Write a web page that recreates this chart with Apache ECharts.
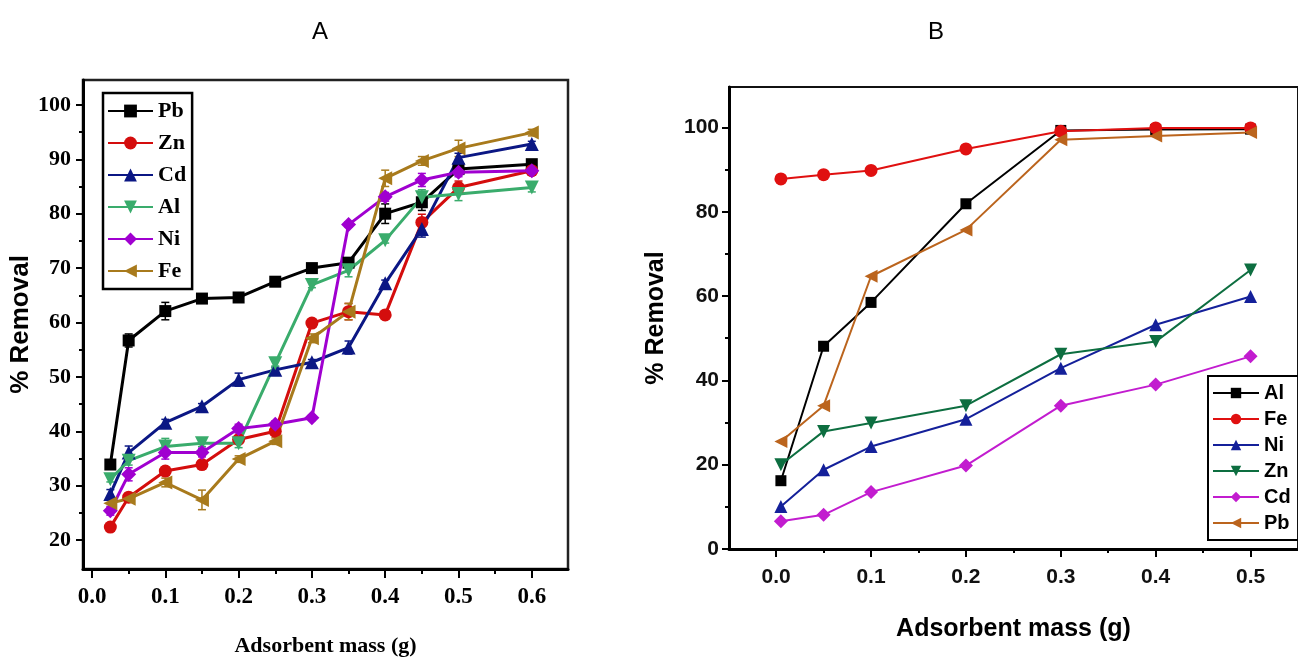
<!DOCTYPE html>
<html>
<head>
<meta charset="UTF-8">
<title>removal</title>
<script src="https://cdn.jsdelivr.net/npm/echarts@6/dist/echarts.min.js"></script>
<style>
  html, body { margin: 0; padding: 0; background: #fff; }
  #chart { width: 1298px; height: 662px; }
</style>
</head>
<body>
<div id="chart"></div>
<script>
// panel A
var massA = [0.025, 0.05, 0.1, 0.15, 0.2, 0.25, 0.3, 0.35, 0.4, 0.45, 0.5, 0.6];
var pbA = [33.9, 56.7, 62.1, 64.4, 64.6, 67.5, 70.0, 71.0, 80.0, 82.1, 88.2, 89.1];
var znA = [22.4, 27.9, 32.7, 33.9, 38.5, 40.0, 59.9, 62.0, 61.4, 78.4, 84.8, 87.9];
var cdA = [28.5, 36.1, 41.6, 44.6, 49.5, 51.3, 52.7, 55.4, 67.2, 77.2, 90.3, 92.8];
var alA = [31.2, 34.6, 37.2, 37.8, 37.8, 52.5, 66.9, 69.6, 75.1, 83.0, 83.6, 84.8];
var niA = [25.4, 32.1, 36.1, 36.1, 40.5, 41.3, 42.5, 78.0, 83.1, 86.2, 87.6, 87.9];
var feA = [26.8, 27.6, 30.6, 27.4, 34.9, 38.2, 57.1, 62.0, 86.5, 89.7, 92.0, 94.9];
// error bars (half width)
var pbErr = [0.8, 1.2, 1.6, 0.5, 0.5, 0.5, 0.5, 0.6, 1.8, 1.5, 0.8, 0.5];
var znErr = [0.5, 0.5, 0.8, 0.5, 0.6, 0.5, 0.5, 1.5, 0.5, 1.5, 1.2, 0.5];
var cdErr = [0.8, 1.2, 0.6, 0.5, 1.2, 0.5, 0.5, 1.2, 0.6, 1.5, 0.8, 0.5];
var alErr = [0.5, 0.8, 1.5, 0.6, 0.8, 0.5, 0.5, 1.2, 0.5, 1.4, 1.2, 0.8];
var niErr = [0.8, 1.2, 1.2, 0.8, 0.8, 0.6, 0.5, 0.5, 0.8, 1.2, 0.8, 0.5];
var feErr = [0.8, 0.6, 0.8, 1.8, 0.6, 0.6, 0.8, 1.5, 1.5, 0.8, 1.5, 0.6];
var ticksXA = [0, 0.1, 0.2, 0.3, 0.4, 0.5, 0.6];
var minorXA = [0.05, 0.15, 0.25, 0.35, 0.45, 0.55];
var ticksYA = [20, 30, 40, 50, 60, 70, 80, 90, 100];
var minorYA = [25, 35, 45, 55, 65, 75, 85, 95];

// panel B
var massB = [0.005, 0.05, 0.1, 0.2, 0.3, 0.4, 0.5];
var alB = [16.2, 48.1, 58.5, 81.9, 99.3, 99.5, 99.6];
var feB = [87.8, 88.8, 89.8, 94.9, 99.1, 99.9, 99.9];
var niB = [10.1, 18.8, 24.3, 30.8, 42.9, 53.2, 59.9];
var znB = [20.0, 27.9, 29.9, 34.0, 46.2, 49.2, 66.2];
var cdB = [6.6, 8.1, 13.5, 19.8, 34.0, 39.0, 45.7];
var pbB = [25.5, 34.0, 64.7, 75.7, 97.1, 98.0, 98.8];
var ticksXB = [0, 0.1, 0.2, 0.3, 0.4, 0.5];
var minorXB = [0.05, 0.15, 0.25, 0.35, 0.45];
var ticksYB = [0, 20, 40, 60, 80, 100];
var minorYB = [10, 30, 50, 70, 90];

var serif = 'Liberation Serif';
var sans = 'Liberation Sans';

function pairs(xs, ys) {
  return xs.map(function (x, i) { return [x, ys[i]]; });
}

function line(name, xs, ys, color, symbol, rot, size, width, axis) {
  return {
    type: 'line', name: name, data: pairs(xs, ys),
    xAxisIndex: axis, yAxisIndex: axis, z: 3,
    symbol: symbol, symbolRotate: rot, symbolSize: size,
    itemStyle: { color: color },
    lineStyle: { color: color, width: width },
    animation: false
  };
}

function errBars(xs, ys, errs, color) {
  return {
    type: 'custom', xAxisIndex: 0, yAxisIndex: 0, z: 2, silent: true, animation: false,
    data: xs.map(function (x, i) { return [x, ys[i], errs[i]]; }),
    encode: { x: 0, y: 1 },
    renderItem: function (params, api) {
      var x = api.value(0), y = api.value(1), e = api.value(2);
      var t = api.coord([x, y + e]), b = api.coord([x, y - e]);
      var st = { stroke: color, lineWidth: 1.5 };
      return { type: 'group', children: [
        { type: 'line', shape: { x1: t[0], y1: t[1], x2: b[0], y2: b[1] }, style: st },
        { type: 'line', shape: { x1: t[0] - 4, y1: t[1], x2: t[0] + 4, y2: t[1] }, style: st },
        { type: 'line', shape: { x1: b[0] - 4, y1: b[1], x2: b[0] + 4, y2: b[1] }, style: st }
      ] };
    }
  };
}

// extra axis used only for the short minor ticks
function minorAxis(grid, min, max, vals, len, pos) {
  return {
    type: 'value', gridIndex: grid, min: min, max: max, position: pos,
    axisLine: { show: false, onZero: false }, splitLine: { show: false },
    axisLabel: { show: false },
    axisTick: { show: true, length: len, lineStyle: { color: '#000', width: 2 }, customValues: vals }
  };
}

var colA = { Pb: '#000000', Zn: '#d40d0d', Cd: '#0b1784', Al: '#3aac6c', Ni: '#a000d0', Fe: '#a87a1c' };
var colB = { Al: '#000000', Fe: '#e01010', Ni: '#14209a', Zn: '#0d6e40', Cd: '#c21ccf', Pb: '#bb641d' };

var chart = echarts.init(document.getElementById('chart'));

var option = {
  backgroundColor: '#fff',
  animation: false,
  title: [
    { text: 'A', left: 315, top: 15, textAlign: 'center', textStyle: { fontFamily: sans, fontWeight: 'normal', fontSize: 24, color: '#000' } },
    { text: 'B', left: 931, top: 15, textAlign: 'center', textStyle: { fontFamily: sans, fontWeight: 'normal', fontSize: 24, color: '#000' } }
  ],
  grid: [
    { left: 83, top: 80, width: 485, height: 492, show: true, borderColor: '#222', borderWidth: 2.5, backgroundColor: 'transparent' },
    { left: 729, top: 87, width: 572, height: 462, show: true, borderColor: '#111', borderWidth: 2, backgroundColor: 'transparent' }
  ],
  legend: [
    {
      data: ['Pb', 'Zn', 'Cd', 'Al', 'Ni', 'Fe'], orient: 'vertical', left: 103, top: 93,
      itemWidth: 45, itemHeight: 16, itemGap: 10, padding: [7, 6, 7, 4],
      borderColor: '#000', borderWidth: 2.5, borderRadius: 0,
      textStyle: { fontFamily: serif, fontWeight: 'bold', fontSize: 22, lineHeight: 22, color: '#000' }
    },
    {
      data: ['B-Al', 'B-Fe', 'B-Ni', 'B-Zn', 'B-Cd', 'B-Pb'], orient: 'vertical', left: 1208, top: 376,
      itemWidth: 46, itemHeight: 13, itemGap: 6, padding: [7, 10, 7, 4],
      borderColor: '#000', borderWidth: 2, borderRadius: 0,
      formatter: function (n) { return n.slice(2); },
      textStyle: { fontFamily: sans, fontWeight: 'bold', fontSize: 20, lineHeight: 20, color: '#000' }
    }
  ],
  xAxis: [
    {
      type: 'value', gridIndex: 0, min: -0.0123, max: 0.6494,
      name: 'Adsorbent mass (g)', nameLocation: 'middle', nameGap: 66,
      nameTextStyle: { fontFamily: serif, fontWeight: 'bold', fontSize: 22, color: '#000' },
      axisLine: { show: true, onZero: false, lineStyle: { color: '#000', width: 3 } },
      axisTick: { show: true, length: 9, lineStyle: { color: '#000', width: 2 }, customValues: ticksXA },
      axisLabel: { customValues: ticksXA, margin: 17, fontFamily: serif, fontWeight: 'bold', fontSize: 23, color: '#000',
        formatter: function (v) { return v.toFixed(1); } },
      splitLine: { show: false }
    },
    minorAxis(0, -0.0123, 0.6494, minorXA, 5, 'bottom'),
    {
      type: 'value', gridIndex: 1, min: -0.0497, max: 0.55,
      name: 'Adsorbent mass (g)', nameLocation: 'middle', nameGap: 68,
      nameTextStyle: { fontFamily: sans, fontWeight: 'bold', fontSize: 25, color: '#000' },
      axisLine: { show: true, onZero: false, lineStyle: { color: '#000', width: 3 } },
      axisTick: { show: true, length: 8, lineStyle: { color: '#000', width: 2 }, customValues: ticksXB },
      axisLabel: { customValues: ticksXB, margin: 18, fontFamily: sans, fontWeight: 'bold', fontSize: 21, color: '#111',
        formatter: function (v) { return v.toFixed(1); } },
      splitLine: { show: false }
    },
    minorAxis(1, -0.0497, 0.55, minorXB, 4, 'bottom')
  ],
  yAxis: [
    {
      type: 'value', gridIndex: 0, min: 14.7, max: 104.57,
      name: '% Removal', nameLocation: 'middle', nameGap: 44, nameRotate: 90,
      nameTextStyle: { fontFamily: sans, fontWeight: 'bold', fontSize: 26, color: '#000' },
      axisLine: { show: true, onZero: false, lineStyle: { color: '#000', width: 3 } },
      axisTick: { show: true, length: 7, lineStyle: { color: '#000', width: 2 }, customValues: ticksYA },
      axisLabel: { customValues: ticksYA, margin: 12, fontFamily: serif, fontWeight: 'bold', fontSize: 22, color: '#000' },
      splitLine: { show: false }
    },
    minorAxis(0, 14.7, 104.57, minorYA, 4, 'left'),
    {
      type: 'value', gridIndex: 1, min: 0, max: 109.6,
      name: '% Removal', nameLocation: 'middle', nameGap: 60, nameRotate: 90,
      nameTextStyle: { fontFamily: sans, fontWeight: 'bold', fontSize: 25, color: '#000' },
      axisLine: { show: true, onZero: false, lineStyle: { color: '#000', width: 3 } },
      axisTick: { show: true, length: 7, lineStyle: { color: '#000', width: 2 }, customValues: ticksYB },
      axisLabel: { customValues: ticksYB, margin: 10, fontFamily: sans, fontWeight: 'bold', fontSize: 21, color: '#111' },
      splitLine: { show: false }
    },
    minorAxis(1, 0, 109.6, minorYB, 4, 'left')
  ],
  series: [
    line('Pb', massA, pbA, colA.Pb, 'rect', 0, 12, 3, 0),
    line('Zn', massA, znA, colA.Zn, 'circle', 0, 13, 3, 0),
    line('Cd', massA, cdA, colA.Cd, 'triangle', 0, 14, 3, 0),
    line('Al', massA, alA, colA.Al, 'triangle', 180, 14, 3, 0),
    line('Ni', massA, niA, colA.Ni, 'diamond', 0, 15, 3, 0),
    line('Fe', massA, feA, colA.Fe, 'triangle', 90, 14, 3, 0),
    errBars(massA, pbA, pbErr, colA.Pb),
    errBars(massA, znA, znErr, colA.Zn),
    errBars(massA, cdA, cdErr, colA.Cd),
    errBars(massA, alA, alErr, colA.Al),
    errBars(massA, niA, niErr, colA.Ni),
    errBars(massA, feA, feErr, colA.Fe),
    line('B-Al', massB, alB, colB.Al, 'rect', 0, 11, 2, 2),
    line('B-Fe', massB, feB, colB.Fe, 'circle', 0, 13, 2, 2),
    line('B-Ni', massB, niB, colB.Ni, 'triangle', 0, 13, 2, 2),
    line('B-Zn', massB, znB, colB.Zn, 'triangle', 180, 13, 2, 2),
    line('B-Cd', massB, cdB, colB.Cd, 'diamond', 0, 14, 2, 2),
    line('B-Pb', massB, pbB, colB.Pb, 'triangle', 90, 13, 2, 2)
  ]
};
chart.setOption(option);
</script>
</body>
</html>
